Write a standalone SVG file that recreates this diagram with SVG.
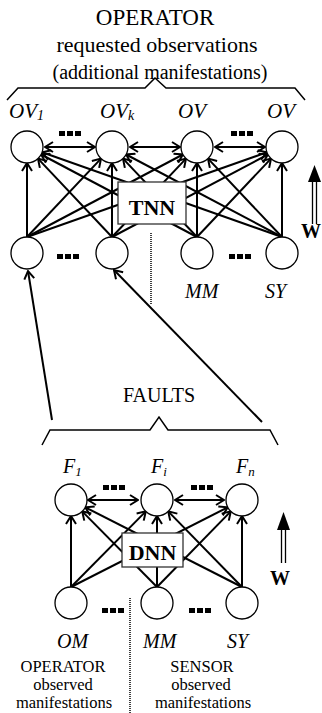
<svg xmlns="http://www.w3.org/2000/svg" width="322" height="713" viewBox="0 0 322 713">
<style>
.t{font-family:"Liberation Serif","Times New Roman",serif;fill:#000}
.ti{font-family:"Liberation Serif","Times New Roman",serif;font-style:italic;fill:#000;font-size:20px}
.nd{fill:#fff;stroke:#000;stroke-width:1.3}
.ln{stroke:#000;stroke-width:2;fill:none;marker-end:url(#ah)}
.dl{stroke:#000;stroke-width:2;fill:none;marker-end:url(#ah);marker-start:url(#ah)}
.br{stroke:#000;stroke-width:1.5;fill:none}
.dot{stroke:#000;stroke-width:1.5;stroke-dasharray:1 1;fill:none}
.bx{fill:#fff;stroke:#333;stroke-width:1.3}
.bt{font-family:"Liberation Serif","Times New Roman",serif;font-weight:bold;font-size:22px;text-anchor:middle}
</style>
<defs>
<marker id="ah" viewBox="0 0 10 12" markerWidth="10" markerHeight="12" refX="9" refY="6" orient="auto-start-reverse" markerUnits="userSpaceOnUse">
<path d="M1,1 L9,6 L1,11" fill="none" stroke="#000" stroke-width="2"/>
</marker>
<g id="ell"><rect x="0" y="0" width="6" height="5"/><rect x="8" y="0" width="6" height="5"/><rect x="16" y="0" width="6" height="5"/></g>
</defs>

<g id="title" class="t" text-anchor="middle">
<text x="155" y="25" font-size="23">OPERATOR</text>
<text x="157" y="52" font-size="22">requested observations</text>
<text x="160" y="79" font-size="20">(additional manifestations)</text>
</g>
<path class="br" d="M7,100 L18,88 L145,88 L155,78 L166,88 L295,88 L305,100"/>

<g id="ov-labels" class="ti" style="font-size:21px">
<text x="9" y="118">OV<tspan font-size="14" dy="2">1</tspan></text>
<text x="100" y="118">OV<tspan font-size="14" dy="2">k</tspan></text>
<text x="178" y="118">OV</text>
<text x="267" y="118">OV</text>
</g>

<g id="connectors">
<!-- top network -->
<line class="ln" x1="27" y1="237" x2="27" y2="163"/>
<line class="ln" x1="27" y1="237" x2="101" y2="158.6"/>
<line class="ln" x1="27" y1="237" x2="182.9" y2="154.5"/>
<line class="ln" x1="27" y1="237" x2="266.9" y2="152.3"/>
<line class="ln" x1="112" y1="237" x2="38" y2="158.6"/>
<line class="ln" x1="112" y1="237" x2="112" y2="163"/>
<line class="ln" x1="112" y1="237" x2="186" y2="158.6"/>
<line class="ln" x1="112" y1="237" x2="267.9" y2="154.5"/>
<line class="ln" x1="197" y1="237" x2="41.1" y2="154.5"/>
<line class="ln" x1="197" y1="237" x2="123" y2="158.6"/>
<line class="ln" x1="197" y1="237" x2="197" y2="163"/>
<line class="ln" x1="197" y1="237" x2="271" y2="158.6"/>
<line class="ln" x1="282" y1="237" x2="42.1" y2="152.3"/>
<line class="ln" x1="282" y1="237" x2="126.1" y2="154.5"/>
<line class="ln" x1="282" y1="237" x2="208" y2="158.6"/>
<line class="ln" x1="282" y1="237" x2="282" y2="163"/>
<line class="dl" x1="45" y1="147" x2="95" y2="147"/>
<line class="dl" x1="130" y1="147" x2="180" y2="147"/>
<line class="dl" x1="215" y1="147" x2="265" y2="147"/>
<!-- long arrows from faults -->
<line class="ln" x1="52" y1="420" x2="28" y2="271"/>
<line class="ln" x1="262" y1="422" x2="114" y2="270"/>
<!-- bottom network -->
<line class="ln" x1="71" y1="587" x2="71" y2="516"/>
<line class="ln" x1="71" y1="587" x2="145.8" y2="511.4"/>
<line class="ln" x1="71" y1="587" x2="227.7" y2="507.3"/>
<line class="ln" x1="157" y1="587" x2="82.2" y2="511.4"/>
<line class="ln" x1="157" y1="587" x2="157" y2="516"/>
<line class="ln" x1="157" y1="587" x2="230.8" y2="511.4"/>
<line class="ln" x1="242" y1="587" x2="85.3" y2="507.3"/>
<line class="ln" x1="242" y1="587" x2="168.2" y2="511.4"/>
<line class="ln" x1="242" y1="587" x2="242" y2="516"/>
<line class="dl" x1="88" y1="500" x2="138" y2="500"/>
<line class="dl" x1="175" y1="500" x2="224" y2="500"/>
</g>

<g id="ellipses">
<use href="#ell" x="59" y="131"/>
<use href="#ell" x="231" y="131"/>
<use href="#ell" x="57" y="254"/>
<use href="#ell" x="229" y="254"/>
<use href="#ell" x="103" y="485"/>
<use href="#ell" x="191" y="485"/>
<use href="#ell" x="102" y="608"/>
<use href="#ell" x="189" y="608"/>
</g>

<g id="TNN"><rect class="bx" x="118" y="182" width="68" height="42"/><text class="bt" x="152" y="215">TNN</text></g>
<g id="DNN"><rect class="bx" x="122" y="533" width="61" height="34"/><text class="bt" x="152.5" y="560">DNN</text></g>

<g id="OV1"><circle class="nd" cx="27" cy="147" r="16"/></g>
<g id="OVk"><circle class="nd" cx="112" cy="147" r="16"/></g>
<g id="OV3"><circle class="nd" cx="197" cy="147" r="16"/></g>
<g id="OV4"><circle class="nd" cx="282" cy="147" r="16"/></g>
<g id="B1"><circle class="nd" cx="27" cy="253" r="16"/></g>
<g id="B2"><circle class="nd" cx="112" cy="253" r="16"/></g>
<g id="B3"><circle class="nd" cx="197" cy="253" r="16"/></g>
<g id="B4"><circle class="nd" cx="282" cy="253" r="16"/></g>

<path class="dot" d="M151,233 L151,305"/>
<g id="top-labels" class="ti">
<text x="185" y="298">MM</text>
<text x="265" y="298">SY</text>
</g>

<g id="W-top">
<path d="M314.5,165 L308,182 L321,182 Z" fill="#000"/>
<path d="M312.5,182 L312.5,224 M316.5,182 L316.5,224" stroke="#000" stroke-width="1.3"/>
<text class="t" x="301" y="238" font-size="20" font-weight="bold">W</text>
</g>

<text class="t" x="159" y="402" font-size="20" text-anchor="middle">FAULTS</text>
<path class="br" d="M42,445 L50,430 L150,430 L159,417 L168,430 L270,430 L278,445"/>

<g id="f-labels" class="ti">
<text x="63" y="473">F<tspan font-size="13" dy="3">1</tspan></text>
<text x="151" y="473">F<tspan font-size="13" dy="3">i</tspan></text>
<text x="236" y="473">F<tspan font-size="13" dy="3">n</tspan></text>
</g>

<g id="F1"><circle class="nd" cx="71" cy="500" r="16"/></g>
<g id="Fi"><circle class="nd" cx="157" cy="500" r="16"/></g>
<g id="Fn"><circle class="nd" cx="242" cy="500" r="16"/></g>
<g id="OM"><circle class="nd" cx="71" cy="603" r="16"/></g>
<g id="MM"><circle class="nd" cx="157" cy="603" r="16"/></g>
<g id="SY"><circle class="nd" cx="242" cy="603" r="16"/></g>

<g id="W-bottom">
<path d="M283.5,512 L277,530 L290,530 Z" fill="#000"/>
<path d="M281.5,530 L281.5,563 M285.5,530 L285.5,563" stroke="#000" stroke-width="1.3"/>
<text class="t" x="270" y="585" font-size="20" font-weight="bold">W</text>
</g>

<path class="dot" d="M130,598 L130,713"/>
<g id="bottom-labels" class="ti">
<text x="57" y="648">OM</text>
<text x="143" y="648">MM</text>
<text x="227" y="648">SY</text>
</g>
<g class="t" font-size="16.5" text-anchor="middle">
<text x="63" y="672">OPERATOR</text>
<text x="63" y="690">observed</text>
<text x="64" y="708">manifestations</text>
<text x="202" y="672">SENSOR</text>
<text x="201" y="690">observed</text>
<text x="203" y="708">manifestations</text>
</g>
</svg>
